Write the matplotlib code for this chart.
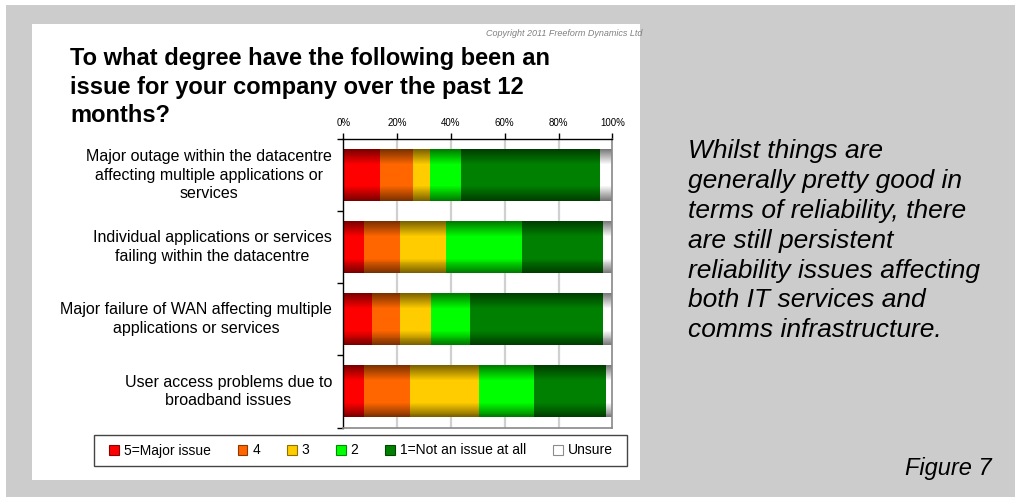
import numpy as np
import matplotlib
matplotlib.use("Agg")
import matplotlib.pyplot as plt
from matplotlib.patches import Rectangle
from matplotlib.colors import to_rgb

plt.rcParams['font.family'] = ['Liberation Sans', 'DejaVu Sans']

# ---------------- data ----------------
categories = [
    "Major outage within the datacentre\naffecting multiple applications or\nservices",
    "Individual applications or services\nfailing within the datacentre",
    "Major failure of WAN affecting multiple\napplications or services",
    "User access problems due to\nbroadband issues",
]
series_names = ["5=Major issue", "4", "3", "2", "1=Not an issue at all", "Unsure"]
major_issue = [13.6, 7.7, 10.7, 7.7]
level_4 = [12.3, 13.4, 10.4, 17.1]
level_3 = [6.3, 17.1, 11.5, 25.6]
level_2 = [11.5, 28.2, 14.5, 20.5]
not_issue = [51.7, 30.1, 49.4, 26.8]
unsure = [4.6, 3.5, 3.5, 2.3]
series_values = [major_issue, level_4, level_3, level_2, not_issue, unsure]
series_colors = ["#ff0000", "#ff6600", "#ffcc00", "#00ff00", "#008000", "#ffffff"]
x_ticks = [0, 20, 40, 60, 80, 100]
x_tick_labels = ["0%", "20%", "40%", "60%", "80%", "100%"]

title_lines = ["To what degree have the following been an",
               "issue for your company over the past 12",
               "months?"]
side_text = ("Whilst things are\ngenerally pretty good in\nterms of reliability, there\n"
             "are still persistent\nreliability issues affecting\nboth IT services and\n"
             "comms infrastructure.")

W, H = 1015, 497
fig = plt.figure(figsize=(W / 100, H / 100), dpi=100)
fig.patch.set_facecolor("white")

def fx(px):
    return px / W

def fy(py):
    return 1 - py / H

# grey background and white panel
fig.add_artist(Rectangle((fx(6), 0), 1 - fx(6), fy(5), transform=fig.transFigure,
                         facecolor="#cccccc", edgecolor="none", zorder=-3))
fig.add_artist(Rectangle((fx(32), fy(480)), fx(640) - fx(32), fy(24) - fy(480),
                         transform=fig.transFigure, facecolor="white",
                         edgecolor="none", zorder=-2))

ax = fig.add_axes([fx(343.3), fy(427.5), fx(612.3) - fx(343.3), fy(139) - fy(427.5)])
ax.set_facecolor("white")

y = np.arange(len(categories))
bar_h = 0.72

# shading: nested bars, full height darkest, inner bars brighter
shade_fracs = np.linspace(1.0, 0.44, 16)
left = np.zeros(len(categories))
for vals, col in zip(series_values, series_colors):
    rgb = np.array(to_rgb(col))
    for k, s in enumerate(shade_fracs):
        dist = s / 2
        f = 1.0 if dist <= 0.22 else 1.0 - (dist - 0.22) / 0.28 * 0.52
        ax.barh(y, vals, left=left, height=bar_h * s, color=rgb * f,
                edgecolor="none", linewidth=0, zorder=2 + k * 0.01)
    left = left + np.array(vals)

ax.set_xlim(0, 100)
ax.set_ylim(len(categories) - 0.5, -0.5)

# grid
ax.set_xticks(x_ticks)
ax.set_xticklabels(x_tick_labels, fontsize=7)
ax.xaxis.tick_top()
ax.tick_params(axis="x", which="major", direction="out", length=4, width=1,
               color="black", pad=4)
for xv in x_ticks[1:-1]:
    ax.axvline(xv, color="#d0d0d0", lw=1.6, zorder=1)

ax.set_yticks(y)
ax.set_yticklabels([])
ax.tick_params(axis="y", which="major", length=0)
ax.set_yticks(np.arange(-0.5, len(categories)), minor=True)
ax.tick_params(axis="y", which="minor", direction="out", length=4, width=1, color="black")

for s in ["left", "top"]:
    ax.spines[s].set_color("black")
    ax.spines[s].set_linewidth(1.0)
for s in ["right", "bottom"]:
    ax.spines[s].set_color("#888888")
    ax.spines[s].set_linewidth(1.2)
for s in ax.spines.values():
    s.set_zorder(5)

# category labels
for yi, lab in zip(y, categories):
    ax.text(-0.042, yi, lab, transform=ax.get_yaxis_transform(), ha="right",
            va="center", multialignment="center", fontsize=11.5, linespacing=1.32)

# legend
fig.add_artist(Rectangle((fx(94), fy(466)), fx(627) - fx(94), fy(435) - fy(466),
                         transform=fig.transFigure, facecolor="white",
                         edgecolor="#444444", linewidth=1.0, zorder=4))
handles = [Rectangle((0, 0), 1, 1, facecolor=c, edgecolor=np.array(to_rgb(c)) * 0.55,
                     linewidth=0.8) for c in series_colors]
leg = fig.legend(handles, series_names, loc="center",
                 bbox_to_anchor=(fx(105), fy(466), fx(617) - fx(105), fy(435) - fy(466)),
                 mode="expand", ncol=6, fontsize=10, frameon=False,
                 handlelength=0.7, handleheight=0.7,
                 handletextpad=0.35, borderpad=0.3, borderaxespad=0)
leg.set_zorder(5)

# texts
for i, line in enumerate(title_lines):
    fig.text(fx(70), fy(65.5 + 28 * i), line, ha="left", va="baseline",
             fontsize=17, fontweight="bold")
fig.text(fx(642), fy(33), "Copyright 2011 Freeform Dynamics Ltd", ha="right",
         va="center", fontsize=6.5, style="italic", color="#808080")
fig.text(fx(688), fy(139), side_text, ha="left", va="top", fontsize=19,
         style="italic", linespacing=1.31)
fig.text(fx(992), fy(475), "Figure 7", ha="right", va="baseline", fontsize=17,
         style="italic")

fig.savefig("out.png", dpi=100)
